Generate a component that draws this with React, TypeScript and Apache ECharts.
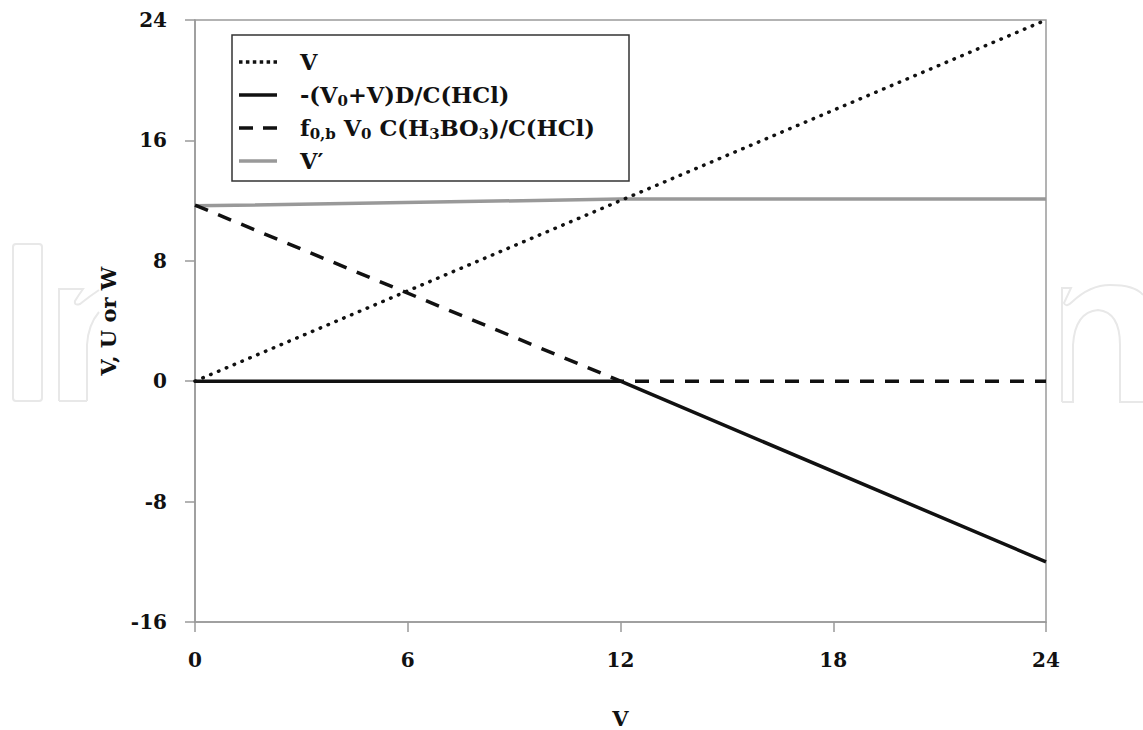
import React, { useEffect, useRef } from "react";
import * as echarts from "echarts";

const xPoints = [0, 12, 24];
const seriesV = [0, 12, 24];
const seriesMinus = [0, 0, -12];
const seriesF0b = [11.7, 0, 0];
const seriesVPrime = [11.65, 12.1, 12.1];

const xTicks = [0, 6, 12, 18, 24];
const yTicks = [-16, -8, 0, 8, 16, 24];

const seriesNames = ["V", "-(V0+V)D/C(HCl)", "f0,b V0 C(H3BO3)/C(HCl)", "V′"];
const legendRich: Record<string, string> = {
  "V": "V",
  "-(V0+V)D/C(HCl)": "-(V{sub|0}+V)D/C(HCl)",
  "f0,b V0 C(H3BO3)/C(HCl)": "f{sub|0,b} V{sub|0} C(H{sub|3}BO{sub|3})/C(HCl)",
  "V′": "V′",
};

const FONT = "'DejaVu Serif', 'Liberation Serif', serif";

const iconDotted =
  "path://M0,0h3.5v3.5h-3.5z M6.9,0h3.5v3.5h-3.5z M13.8,0h3.5v3.5h-3.5z M20.7,0h3.5v3.5h-3.5z M27.6,0h3.5v3.5h-3.5z M34.5,0h3.5v3.5h-3.5z";
const iconSolid = "path://M0,0h38v3.5h-38z";
const iconDashed = "path://M0,0h14v3.5h-14z M24,0h14v3.5h-14z";
const legendIcons = [iconDotted, iconSolid, iconDashed, iconSolid];

const wmPath =
  "M13,247 Q13,244 16,244 L39,244 Q42,244 42,247 L42,398 Q42,401 39,401 L16,401 Q13,401 13,398 Z " +
  "M59,401 L59,289 L83,289 Q78,296 75,301 Q74,306 80,304 Q90,296 99,290 " +
  "M87,401 L87,345 Q88,325 99,312 " +
  "M59,401 L87,401 " +
  "M1062,402 L1062,288 L1071,288 L1064,303 Q1066,308 1072,302 Q1090,285 1110,285 Q1135,285 1143,295 " +
  "M1062,402 L1073,402 L1073,345 Q1075,312 1098,310 Q1120,312 1120,345 L1120,402 L1143,402";

echarts.graphic.registerShape("wmark", echarts.graphic.extendPath(wmPath, {}) as any);

function makeSeries(name: string, ys: number[], color: string, type: any, cap: any, z: number) {
  return {
    name,
    type: "line",
    data: xPoints.map((x, i) => [x, ys[i]]),
    symbol: "none",
    z,
    lineStyle: { color, width: 3.5, type, cap },
    itemStyle: { color },
  };
}

const labelStyle = { fontFamily: FONT, fontWeight: "bold", fontSize: 20, color: "#111" };

export default function App() {
  const ref = useRef<HTMLDivElement>(null);
  useEffect(() => {
    document.body.style.margin = "0";
    const chart = echarts.init(ref.current!, undefined, { renderer: "svg" });
    chart.setOption({
      animation: false,
      backgroundColor: "#fff",
      grid: {
        left: 195,
        top: 20,
        right: 97,
        bottom: 108,
        show: true,
        borderColor: "#9a9a9a",
        borderWidth: 1.5,
        outerBoundsMode: "none",
        containLabel: false,
      },
      xAxis: {
        type: "value",
        min: xTicks[0],
        max: xTicks[xTicks.length - 1],
        interval: 6,
        name: "V",
        nameLocation: "middle",
        nameGap: 86,
        nameTextStyle: { ...labelStyle, fontSize: 21 },
        axisLine: { onZero: false, lineStyle: { color: "#9a9a9a", width: 1.5 } },
        axisTick: { length: 10, lineStyle: { color: "#9a9a9a", width: 1.5 } },
        axisLabel: { ...labelStyle, margin: 28 },
        splitLine: { show: false },
      },
      yAxis: {
        type: "value",
        min: yTicks[0],
        max: yTicks[yTicks.length - 1],
        interval: 8,
        name: "V, U or W",
        nameLocation: "middle",
        nameGap: 76,
        nameRotate: 90,
        nameTextStyle: { ...labelStyle, fontSize: 21 },
        axisLine: { lineStyle: { color: "#9a9a9a", width: 1.5 } },
        axisTick: { length: 10, lineStyle: { color: "#9a9a9a", width: 1.5 } },
        axisLabel: { ...labelStyle, margin: 28 },
        splitLine: { show: false },
      },
      legend: {
        orient: "vertical",
        left: 239,
        top: 49,
        padding: 0,
        itemGap: 7,
        itemWidth: 38,
        itemHeight: 3.5,
        data: seriesNames.map((n, i) => ({ name: n, icon: legendIcons[i] })),
        itemStyle: { borderWidth: 0 },
        formatter: (n: string) => legendRich[n] ?? n,
        textStyle: {
          fontFamily: FONT,
          fontWeight: "bold",
          fontSize: 22.5,
          color: "#111",
          lineHeight: 26,
          padding: [0, 0, 0, 18],
          rich: {
            sub: {
              fontFamily: FONT,
              fontWeight: "bold",
              fontSize: 15,
              lineHeight: 12,
              verticalAlign: "bottom",
              color: "#111",
            },
          },
        },
      },
      graphic: [
        {
          type: "wmark",
          x: 0,
          y: 0,
          silent: true,
          z: -10,
          style: { fill: "none", stroke: "#e8e8e8", lineWidth: 2 },
        },
        {
          type: "rect",
          shape: { x: 232, y: 35, width: 397, height: 146 },
          style: { fill: "none", stroke: "#333", lineWidth: 1.5 },
          z: 10,
        },
      ],
      series: [
        makeSeries(seriesNames[0], seriesV, "#111", [0.5, 8], "round", 3),
        makeSeries(seriesNames[1], seriesMinus, "#111", "solid", "butt", 4),
        makeSeries(seriesNames[2], seriesF0b, "#111", [14, 11], "butt", 3),
        makeSeries(seriesNames[3], seriesVPrime, "#999999", "solid", "butt", 2),
      ],
    });
    return () => chart.dispose();
  }, []);
  return <div ref={ref} style={{ width: 1143, height: 730 }} />;
}
